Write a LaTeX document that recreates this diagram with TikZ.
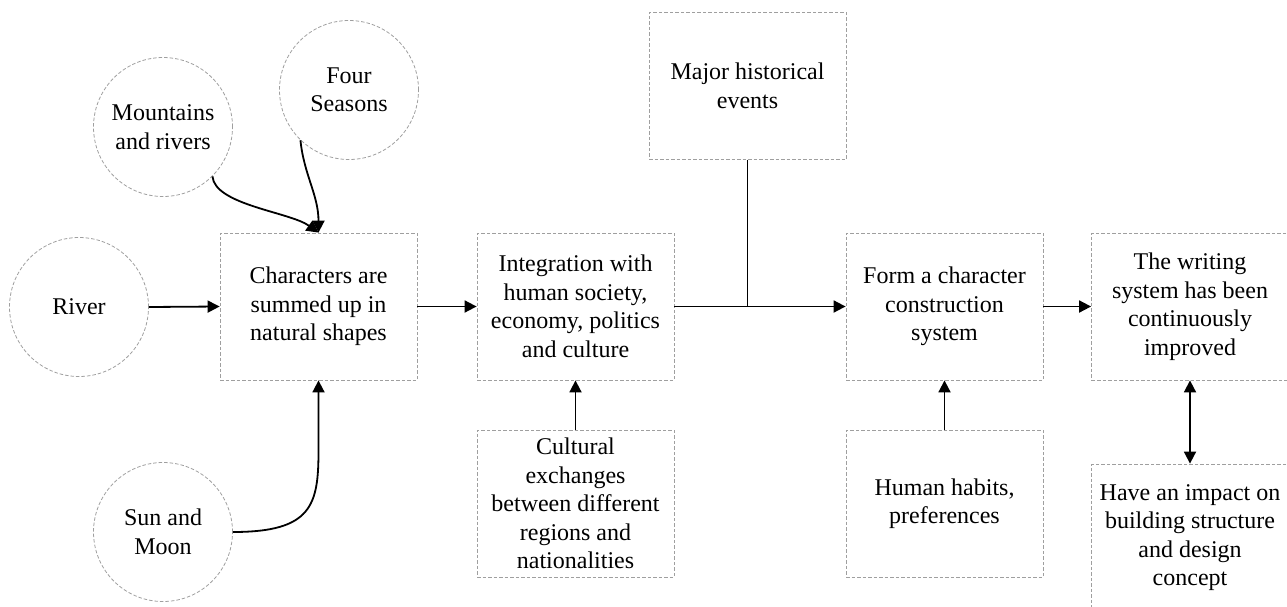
\documentclass[tikz,border=0pt]{standalone}
\usepackage{fontspec}
\setmainfont{Liberation Serif}
\usetikzlibrary{arrows.meta}
\begin{document}
\begin{tikzpicture}[x=1pt,y=-1pt,
  txt/.style={align=center,font=\fontsize{24}{28.5}\selectfont,inner sep=0pt},
  box/.style={txt,draw=gray!75,line width=0.8pt,dash pattern=on 3.5pt off 2pt,minimum width=197pt,minimum height=147pt},
  circ/.style={txt,circle,draw=gray!75,line width=0.8pt,dash pattern=on 3.5pt off 2pt,minimum size=139pt},
  arr/.style={-{Triangle[length=12pt,width=12pt]},line width=1.8pt},
  darr/.style={{Triangle[length=12pt,width=12pt]}-{Triangle[length=12pt,width=12pt]},line width=1.8pt},
  ln/.style={line width=1.8pt}]
\useasboundingbox (0,0) rectangle (1287,607);
\node[circ] (mr) at (163,127) {Mountains\\and rivers};
\node[circ] (fs) at (349,90) {Four\\Seasons};
\node[circ] (rv) at (79,307) {River};
\node[circ] (sm) at (163,532) {Sun and\\Moon};
\node[box] (b1) at (318.5,306.5) {Characters are\\summed up in\\natural shapes};
\node[box] (b2) at (575.5,306.5) {Integration with\\human society,\\economy, politics\\and culture};
\node[box] (mh) at (747.5,86) {Major historical\\events};
\node[box] (fm) at (944.5,306.5) {Form a character\\construction\\system};
\node[box] (ws) at (1190,306.5) {The writing\\system has been\\continuously\\improved};
\node[box] (im) at (1190,537.5) {Have an impact on\\building structure\\and design\\concept};
\node[box] (ce) at (575.5,503.5) {Cultural\\exchanges\\between different\\regions and\\nationalities};
\node[box] (hh) at (944.5,503.5) {Human habits,\\preferences};
\draw[arr] (rv.east) -- (b1.west);
\draw[arr] (mr.-45) .. controls (215,205) and (290,212) .. (b1.north);
\draw[arr] (fs.-134) .. controls (304,175) and (318.5,195) .. (b1.north);
\draw[arr] (sm.east) .. controls (312,532) and (318.5,505) .. ([yshift=-70pt]b1.south) -- (b1.south);
\draw[arr] (b1.east) -- (b2.west);
\draw[arr] (b2.east) -- (fm.west);
\draw[ln] (mh.south) -- (mh.south |- b2.east);
\draw[arr] (ce.north) -- (b2.south);
\draw[arr] (hh.north) -- (fm.south);
\draw[arr] (fm.east) -- (ws.west);
\draw[darr] (ws.south) -- (im.north);
\end{tikzpicture}
\end{document}
